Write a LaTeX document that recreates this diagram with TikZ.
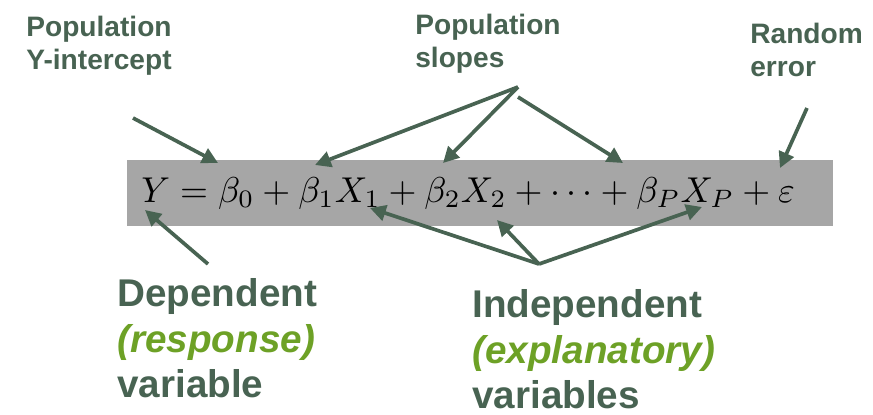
\documentclass[tikz,border=0pt]{standalone}
\usepackage{fontspec}
\setmainfont{Liberation Sans}
\usepackage{graphicx}
\usepackage{xcolor}
\usetikzlibrary{arrows.meta, positioning}
\definecolor{labelgreen}{RGB}{72,99,82}
\definecolor{leafgreen}{RGB}{109,161,38}
\definecolor{boxgray}{RGB}{166,166,166}

\begin{document}
\begin{tikzpicture}[x=0.02cm, y=-0.02cm,
    smalllbl/.style={anchor=north west, inner sep=0pt, align=left, text=labelgreen,
        font=\fontsize{16}{18.7}\selectfont\bfseries},
    biglbl/.style={anchor=north west, inner sep=0pt, align=left, text=labelgreen,
        font=\fontsize{22}{26}\selectfont\bfseries},
    arr/.style={draw=labelgreen, line width=2.1pt, -{Triangle[length=9pt, width=9pt]}}]
    \useasboundingbox (0,0) rectangle (873,414);

    % 1. Gray band with the model equation
    \fill[boxgray] (127,160) rectangle (833,226);
    \node[anchor=base west, inner sep=0pt] (eqn) at (141,202)
        {\resizebox{372pt}{!}{$Y=\beta_0+\beta_1X_1+\beta_2X_2+\cdots+\beta_PX_P+\varepsilon$}};

    % 2. Labels
    \node[smalllbl] (intercept) at (26,16) {Population\\Y-intercept};
    \node[smalllbl] (slopes) at (415,14) {Population\\slopes};
    \node[smalllbl] (error) at (750,23) {Random\\error};
    \node[biglbl] (dependent) at (117,278)
        {Dependent\\{\color{leafgreen}\itshape (response)}\\variable};
    \node[biglbl] (independent) at (472,289)
        {Independent\\{\color{leafgreen}\itshape (explanatory)}\\variables};

    % 3. Arrow ends
    \coordinate (interceptTail) at (133,118);
    \coordinate (beta0) at (218,163);
    \coordinate (slopesTail) at (518,87);
    \coordinate (slopesTailB) at (518,97);
    \coordinate (beta1) at (315,165);
    \coordinate (beta2) at (443,163);
    \coordinate (betaP) at (623,163);
    \coordinate (errorTail) at (807,108);
    \coordinate (epsilon) at (780,168);
    \coordinate (dependentTail) at (208,264);
    \coordinate (ylhs) at (145,210);
    \coordinate (independentTail) at (539,264);
    \coordinate (x1) at (370,208);
    \coordinate (x2) at (497,220);
    \coordinate (xP) at (702,207);

    % 4. Arrows
    \draw[arr] (interceptTail) -- (beta0);
    \draw[arr] (slopesTail) -- (beta1);
    \draw[arr] (slopesTail) -- (beta2);
    \draw[arr] (slopesTailB) -- (betaP);
    \draw[arr] (errorTail) -- (epsilon);
    \draw[arr] (dependentTail) -- (ylhs);
    \draw[arr] (independentTail) -- (x1);
    \draw[arr] (independentTail) -- (x2);
    \draw[arr] (independentTail) -- (xP);
\end{tikzpicture}
\end{document}
